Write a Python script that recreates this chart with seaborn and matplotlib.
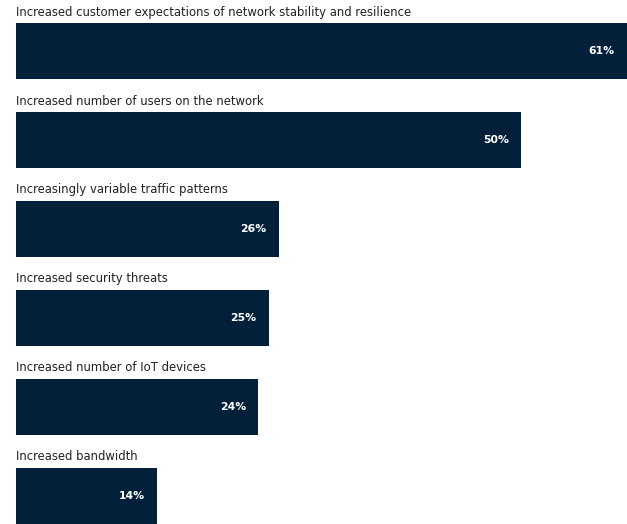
import matplotlib
matplotlib.use("Agg")
import matplotlib.pyplot as plt
import seaborn as sns
import pandas as pd

# Values
categories = [
    "Increased customer expectations of network stability and resilience",
    "Increased number of users on the network",
    "Increasingly variable traffic patterns",
    "Increased security threats",
    "Increased number of IoT devices",
    "Increased bandwidth",
]
percentages = [61, 50, 26, 25, 24, 14]

BAR_COLOR = "#03203a"
TEXT_COLOR = "#222222"

sns.set_style("white")
plt.rcParams["font.family"] = ["DejaVu Sans"]

df = pd.DataFrame({"category": categories, "pct": percentages})

fig = plt.figure(figsize=(6.27, 5.24), dpi=100)
ax = fig.add_axes([16 / 627, 0, 1 - 16 / 627, 1])

sns.barplot(data=df, x="pct", y="category", color=BAR_COLOR,
            saturation=1, width=0.63, linewidth=0, ax=ax)

ax.set_xlim(0, 611 / 10.1)
ax.set_ylim(len(categories) - 1 + 0.315, -0.573)
ax.axis("off")

for i, (cat, val) in enumerate(zip(categories, percentages)):
    ax.text(0, i - 0.315 - 0.05, cat, ha="left", va="bottom",
            fontsize=8.4, color=TEXT_COLOR)
    ax.text(min(val, 60.5) - 1.2, i, f"{val}%", ha="right", va="center",
            fontsize=7.8, fontweight="bold", color="white")

fig.savefig("out.png", dpi=100)
